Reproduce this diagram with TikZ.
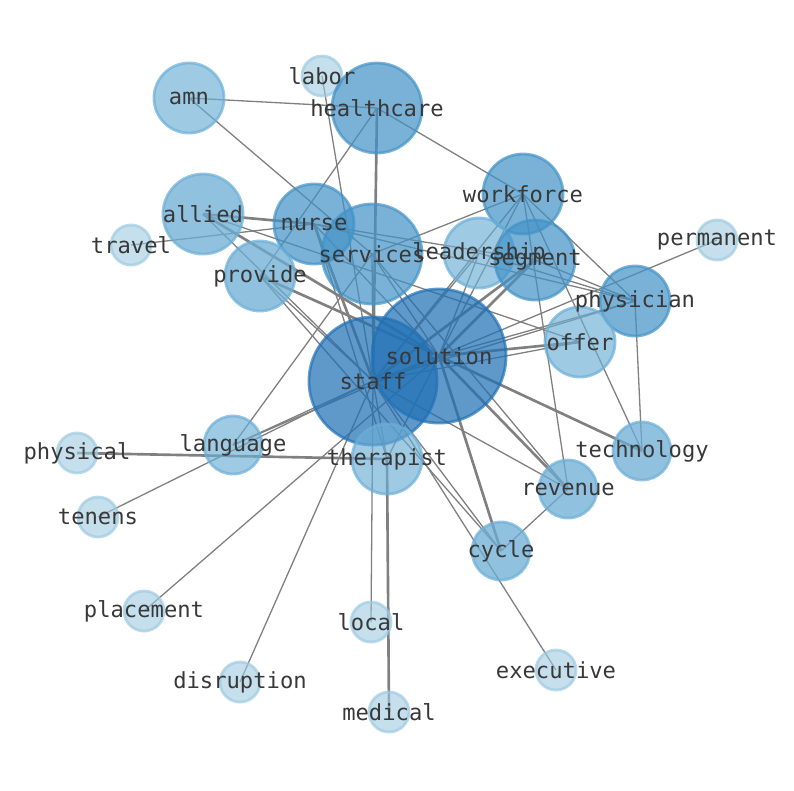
\documentclass[tikz,border=0pt]{standalone}
\usepackage{fontspec}
\setmonofont{DejaVu Sans Mono}
\pgfdeclarelayer{background}
\pgfsetlayers{background,main}
\definecolor{bluepale}{HTML}{9ECAE1}
\definecolor{bluelight}{HTML}{6BAED6}
\definecolor{bluemid}{HTML}{4292C6}
\definecolor{bluedark}{HTML}{2171B5}
\tikzset{
  word/.style={circle, inner sep=0pt, line width=0.8pt, draw opacity=0.7},
  pale/.style={word, fill=bluepale, draw=bluepale, fill opacity=0.6},
  light/.style={word, fill=bluelight, draw=bluelight, fill opacity=0.65},
  mid/.style={word, fill=bluelight, draw=bluelight, fill opacity=0.75},
  strong/.style={word, fill=bluemid, draw=bluemid, fill opacity=0.7},
  hub/.style={word, fill=bluedark, draw=bluedark, fill opacity=0.72},
  lbl/.style={font=\ttfamily\fontsize{6.3}{7}\selectfont, text=black!78, inner sep=0pt},
  edge/.style={draw=black!50, line width=0.37pt},
  bold/.style={draw=black!50, line width=0.75pt}
}
\begin{document}
\begin{tikzpicture}[x=0.01cm, y=-0.01cm]
        \useasboundingbox (0,0) rectangle (794,790);

        \node[light, minimum size=0.7cm] (amn) at (189, 98) {};
        \node[pale, minimum size=0.4cm] (labor) at (322, 76) {};
        \node[strong, minimum size=0.9cm] (healthcare) at (377, 108) {};
        \node[strong, minimum size=0.8cm] (workforce) at (523, 194) {};
        \node[mid, minimum size=0.8cm] (allied) at (203, 214) {};
        \node[pale, minimum size=0.4cm] (travel) at (131, 245) {};
        \node[strong, minimum size=0.8cm] (nurse) at (314, 224) {};
        \node[strong, minimum size=1.0cm] (services) at (372, 254) {};
        \node[light, minimum size=0.7cm] (leadership) at (479, 253) {};
        \node[strong, minimum size=0.8cm] (segment) at (535, 260) {};
        \node[pale, minimum size=0.4cm] (permanent) at (717, 240) {};
        \node[mid, minimum size=0.7cm] (provide) at (260, 276) {};
        \node[strong, minimum size=0.7cm] (physician) at (635, 301) {};
        \node[light, minimum size=0.7cm] (offer) at (580, 342) {};
        \node[hub, minimum size=1.34cm] (solution) at (439, 356) {};
        \node[hub, minimum size=1.28cm] (staff) at (373, 381) {};
        \node[light, minimum size=0.58cm] (language) at (233, 445) {};
        \node[pale, minimum size=0.4cm] (physical) at (77, 453) {};
        \node[light, minimum size=0.7cm] (therapist) at (387, 459) {};
        \node[mid, minimum size=0.58cm] (technology) at (642, 451) {};
        \node[mid, minimum size=0.58cm] (revenue) at (568, 489) {};
        \node[pale, minimum size=0.4cm] (tenens) at (98, 517) {};
        \node[mid, minimum size=0.58cm] (cycle) at (501, 551) {};
        \node[pale, minimum size=0.4cm] (placement) at (144, 611) {};
        \node[pale, minimum size=0.4cm] (local) at (371, 622) {};
        \node[pale, minimum size=0.4cm] (disruption) at (240, 682) {};
        \node[pale, minimum size=0.4cm] (executive) at (556, 670) {};
        \node[pale, minimum size=0.4cm] (medical) at (389, 712) {};

        \begin{pgfonlayer}{background}
        \draw[edge] (amn.center) -- (healthcare.center);
        \draw[edge] (amn.center) -- (services.center);
        \draw[edge] (labor.center) -- (staff.center);
        \draw[bold] (healthcare.center) -- (staff.center);
        \draw[edge] (healthcare.center) -- (provide.center);
        \draw[edge] (healthcare.center) -- (workforce.center);
        \draw[bold] (allied.center) -- (nurse.center);
        \draw[bold] (allied.center) -- (solution.center);
        \draw[edge] (allied.center) -- (staff.center);
        \draw[edge] (allied.center) -- (offer.center);
        \draw[edge] (travel.center) -- (nurse.center);
        \draw[bold] (nurse.center) -- (staff.center);
        \draw[edge] (nurse.center) -- (therapist.center);
        \draw[edge] (nurse.center) -- (solution.center);
        \draw[edge] (nurse.center) -- (physician.center);
        \draw[edge] (nurse.center) -- (segment.center);
        \draw[edge] (services.center) -- (staff.center);
        \draw[edge] (services.center) -- (solution.center);
        \draw[edge] (services.center) -- (workforce.center);
        \draw[edge] (services.center) -- (language.center);
        \draw[edge] (services.center) -- (revenue.center);
        \draw[bold] (provide.center) -- (solution.center);
        \draw[edge] (provide.center) -- (staff.center);
        \draw[edge] (provide.center) -- (cycle.center);
        \draw[edge] (leadership.center) -- (solution.center);
        \draw[edge] (leadership.center) -- (staff.center);
        \draw[edge] (leadership.center) -- (physician.center);
        \draw[bold] (segment.center) -- (solution.center);
        \draw[bold] (segment.center) -- (staff.center);
        \draw[edge] (segment.center) -- (physician.center);
        \draw[edge] (workforce.center) -- (solution.center);
        \draw[edge] (workforce.center) -- (staff.center);
        \draw[edge] (workforce.center) -- (physician.center);
        \draw[edge] (workforce.center) -- (technology.center);
        \draw[edge] (workforce.center) -- (revenue.center);
        \draw[edge] (permanent.center) -- (solution.center);
        \draw[edge] (physician.center) -- (solution.center);
        \draw[edge] (physician.center) -- (staff.center);
        \draw[edge] (physician.center) -- (technology.center);
        \draw[bold] (offer.center) -- (solution.center);
        \draw[edge] (offer.center) -- (staff.center);
        \draw[edge] (solution.center) -- (staff.center);
        \draw[bold] (solution.center) -- (technology.center);
        \draw[bold] (solution.center) -- (revenue.center);
        \draw[bold] (solution.center) -- (cycle.center);
        \draw[edge] (solution.center) -- (therapist.center);
        \draw[edge] (solution.center) -- (language.center);
        \draw[edge] (solution.center) -- (placement.center);
        \draw[edge] (staff.center) -- (therapist.center);
        \draw[edge] (staff.center) -- (local.center);
        \draw[edge] (staff.center) -- (disruption.center);
        \draw[edge] (staff.center) -- (language.center);
        \draw[edge] (staff.center) -- (tenens.center);
        \draw[edge] (staff.center) -- (revenue.center);
        \draw[edge] (staff.center) -- (cycle.center);
        \draw[edge] (staff.center) -- (executive.center);
        \draw[bold] (physical.center) -- (therapist.center);
        \draw[bold] (medical.center) -- (therapist.center);
        \draw[edge] (revenue.center) -- (cycle.center);
        \end{pgfonlayer}

        % labels on top of every circle
        \foreach \w in {amn, labor, healthcare, workforce, allied, travel, nurse,
          services, leadership, segment, permanent, provide, physician, offer,
          solution, staff, language, physical, therapist, technology, revenue,
          tenens, cycle, placement, local, disruption, executive, medical}
          \node[lbl] at (\w) {\w};

    \end{tikzpicture}
\end{document}
